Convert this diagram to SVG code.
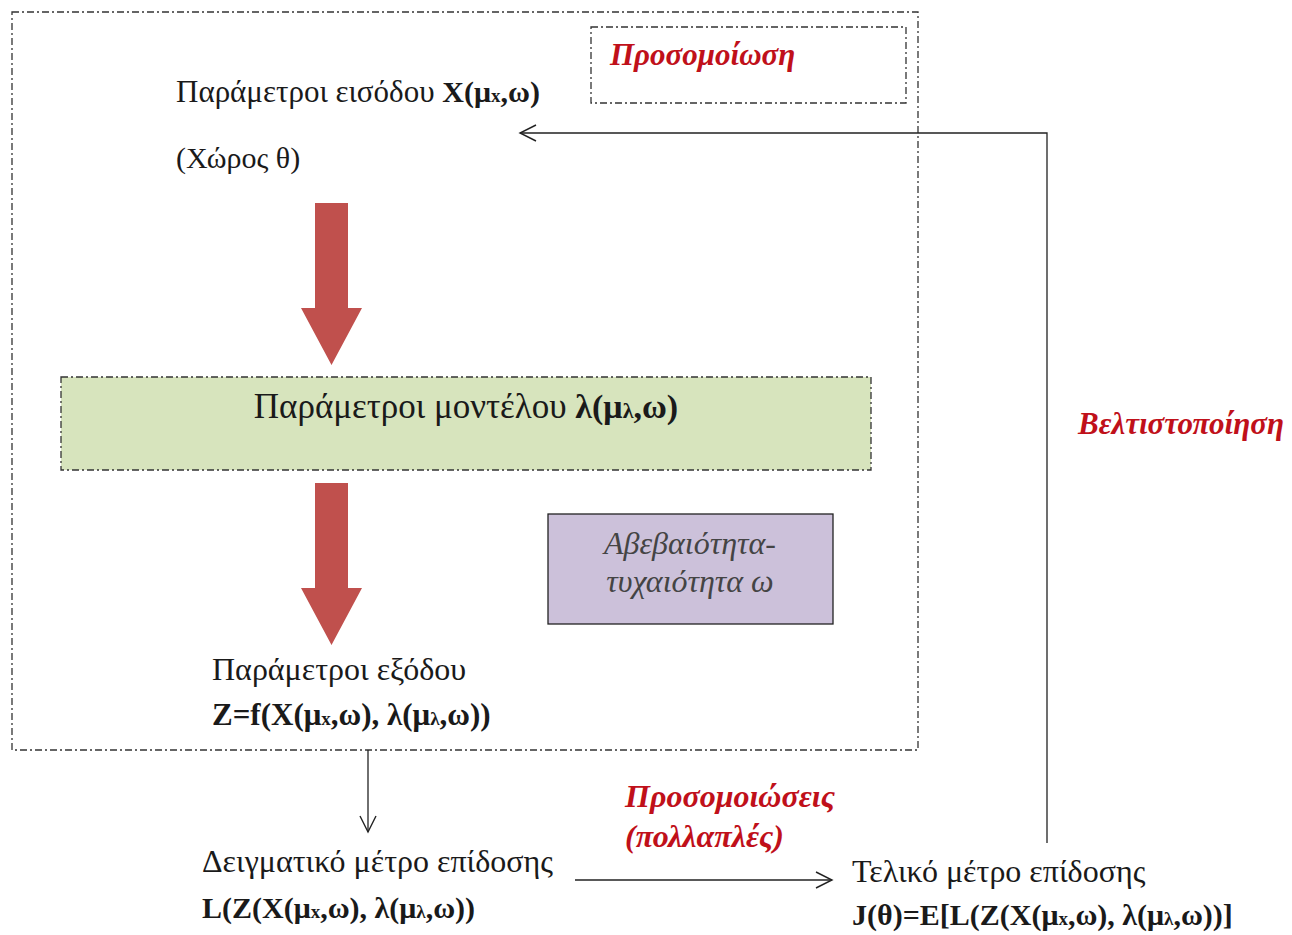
<svg xmlns="http://www.w3.org/2000/svg" width="1292" height="935" viewBox="0 0 1292 935">
<defs>
<style>
.t{font-family:"Liberation Serif","DejaVu Serif",serif;font-size:31px;fill:#1a1a1a}
.b{font-weight:bold;font-size:30px}
.s{font-size:19px}
.red{font-family:"Liberation Serif","DejaVu Serif",serif;font-size:31px;font-style:italic;font-weight:bold;fill:#c0101a}
.dd{fill:none;stroke:#333;stroke-width:1.3;stroke-dasharray:7 3 2 3}
.ln{fill:none;stroke:#222;stroke-width:1.3}
.big{fill:#c0504d}
</style>
<marker id="open" viewBox="0 0 20 20" refX="18" refY="10" markerWidth="20" markerHeight="20" markerUnits="userSpaceOnUse" orient="auto">
<path d="M2,2 L18,10 L2,18" fill="none" stroke="#222" stroke-width="1.4"/>
</marker>
</defs>
<rect width="1292" height="935" fill="#fff"/>
<g id="simulation-frame">
<rect class="dd" x="12" y="12" width="906" height="738"/>
</g>
<g id="simulation-label">
<rect class="dd" x="591" y="27" width="315" height="76"/>
<text class="red" x="610" y="65">Προσομοίωση</text>
</g>
<g id="input">
<text class="t" x="176" y="102">Παράμετροι εισόδου <tspan class="b">X(μ<tspan class="s">x</tspan>,ω)</tspan></text>
<text class="t" x="176" y="168" style="font-size:30px">(Χώρος θ)</text>
</g>
<g id="arrow1">
<polygon class="big" points="315,203 348,203 348,308 362,308 331.5,365 301,308 315,308"/>
</g>
<g id="model">
<rect x="61" y="377" width="810" height="93" fill="#d7e4bd"/>
<rect class="dd" x="61" y="377" width="810" height="93"/>
<text class="t" x="466" y="418" text-anchor="middle" style="font-size:35px">Παράμετροι μοντέλου <tspan class="b" style="font-size:34px">λ(μ<tspan style="font-size:22px">λ</tspan>,ω)</tspan></text>
</g>
<g id="arrow2">
<polygon class="big" points="315,483 348,483 348,588 362,588 331.5,645 301,588 315,588"/>
</g>
<g id="uncertainty">
<rect x="548" y="514" width="285" height="110" fill="#ccc1da" stroke="#222" stroke-width="1.3"/>
<text class="t" x="690" y="554" text-anchor="middle" style="font-style:italic;fill:#444;font-size:32px">Αβεβαιότητα-</text>
<text class="t" x="690" y="592" text-anchor="middle" style="font-style:italic;fill:#444;font-size:32px">τυχαιότητα ω</text>
</g>
<g id="output">
<text class="t" x="212" y="680" style="font-size:32px">Παράμετροι εξόδου</text>
<text class="t b" x="212" y="725" style="font-size:31px">Z=f(X(μ<tspan class="s">x</tspan>,ω), λ(μ<tspan class="s">λ</tspan>,ω))</text>
</g>
<g id="sample-metric">
<text class="t" x="202" y="872" style="font-size:32px">Δειγματικό μέτρο επίδοσης</text>
<text class="t b" x="202" y="918">L(Z(X(μ<tspan class="s">x</tspan>,ω), λ(μ<tspan class="s">λ</tspan>,ω))</text>
</g>
<g id="final-metric">
<text class="t" x="852" y="882" style="font-size:32px">Τελικό μέτρο επίδοσης</text>
<text class="t b" x="852" y="925">J(θ)=E[L(Z(X(μ<tspan class="s">x</tspan>,ω), λ(μ<tspan class="s">λ</tspan>,ω))]</text>
</g>
<g id="labels">
<text class="red" x="625" y="807" style="font-size:32px">Προσομοιώσεις</text>
<text class="red" x="625" y="847" style="font-size:32px">(πολλαπλές)</text>
<text class="red" x="1078" y="434">Βελτιστοποίηση</text>
</g>
<g id="connectors">
<path class="ln" d="M368,750 L368,832" marker-end="url(#open)"/>
<path class="ln" d="M575,880 L832,880" marker-end="url(#open)"/>
<path class="ln" d="M1047,843 L1047,133 L520,133" marker-end="url(#open)"/>
</g>
</svg>
